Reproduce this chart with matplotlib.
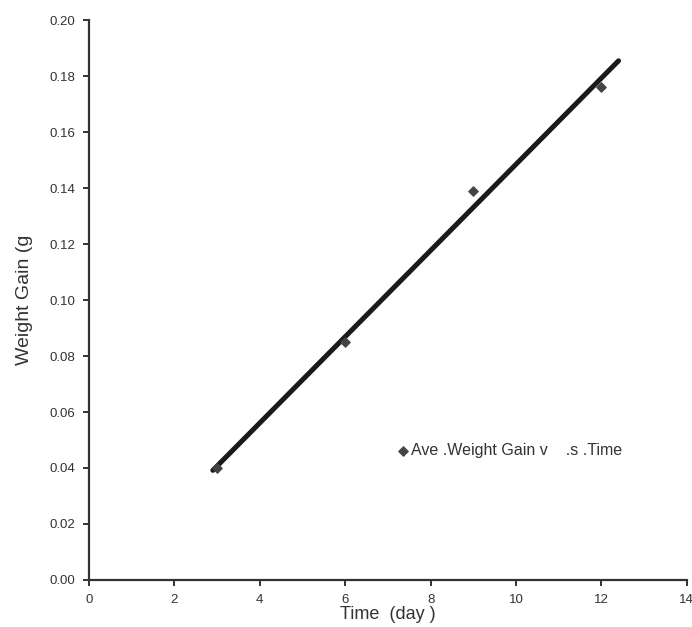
import numpy as np
import matplotlib
matplotlib.use("Agg")
import matplotlib.pyplot as plt

plt.rcParams['font.family'] = ['Liberation Sans', 'DejaVu Sans']

days = [3, 6, 9, 12]
weight_gain = [0.040, 0.085, 0.139, 0.176]
xticks = [0, 2, 4, 6, 8, 10, 12, 14]
yticks = [0.00, 0.02, 0.04, 0.06, 0.08, 0.10, 0.12, 0.14, 0.16, 0.18, 0.20]
legend_label = "Ave .Weight Gain v    .s .Time"

fig = plt.figure(figsize=(6.92, 6.27), dpi=100)
ax = fig.add_axes([0.1286, 0.075, 0.864, 0.893])

slope, intercept = np.polyfit(days, weight_gain, 1)
xl = np.array([2.9, 12.4])
ax.plot(xl, slope * xl + intercept, color='#1a1a1a', lw=3.6, solid_capstyle='round', zorder=2)
sc = ax.scatter(days, weight_gain, marker='D', s=22, color='#444444', zorder=3, label=legend_label)

ax.set_xlim(0, 14)
ax.set_ylim(0, 0.20)
ax.set_xticks(xticks)
ax.set_xticklabels([str(t) for t in xticks])
ax.set_yticks(yticks)
ax.set_yticklabels([f"{t:.2f}" for t in yticks])
for s in ['top', 'right']:
    ax.spines[s].set_visible(False)
for s in ['left', 'bottom']:
    ax.spines[s].set_linewidth(1.6)
    ax.spines[s].set_color('#333333')
ax.tick_params(axis='both', direction='out', length=4, width=1.4, color='#333333',
               labelsize=9.5, labelcolor='#333333')
ax.tick_params(axis='y', pad=6)
ax.tick_params(axis='x', pad=6)

ax.set_xlabel("Time  (day )", fontsize=13, color='#333333', labelpad=0)
ax.set_ylabel("Weight Gain (g", fontsize=14, color='#333333', labelpad=12)

ax.legend(loc='upper left', bbox_to_anchor=(0.49, 0.27), frameon=False, fontsize=11.5,
          handlelength=0.8, handletextpad=0.1, markerscale=1.0, labelcolor='#333333')

fig.savefig("out.png", dpi=100)
